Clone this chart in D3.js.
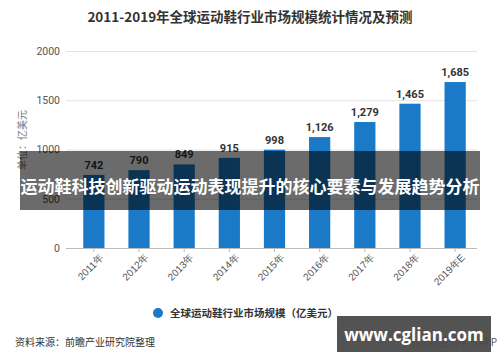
<!DOCTYPE html>
<html><head><meta charset="utf-8">
<script src="https://cdn.jsdelivr.net/npm/d3@7"></script>
<style>body{margin:0;background:#fff;}svg{display:block;font-family:"Noto Sans CJK SC","Noto Sans",sans-serif;}</style>
</head><body>
<svg id="c" width="500" height="362"></svg>
<script>
const categories = ["2011年","2012年","2013年","2014年","2015年","2016年","2017年","2018年","2019年E"];
const values = [742, 790, 849, 915, 998, 1126, 1279, 1465, 1685];
const yTicks = [0, 500, 1000, 1500, 2000];

const svg = d3.select("#c");
const x = d3.scaleBand().domain(categories).range([71.5, 477.5]).paddingInner(0.53).paddingOuter(0.26);
const y = d3.scaleLinear().domain([0, 2000]).range([248, 51]);

svg.append("text").attr("x", 250).attr("y", 22).attr("text-anchor", "middle")
  .attr("font-size", 13.5).attr("font-weight", "bold").attr("fill", "#333")
  .text("2011-2019年全球运动鞋行业市场规模统计情况及预测");

// grid
const yAxis = d3.axisLeft(y).tickValues(yTicks).tickSize(-(477 - 66)).tickPadding(6).tickFormat(d3.format("d"));
const gy = svg.append("g").attr("transform", "translate(66,0)").call(yAxis);
gy.select(".domain").remove();
gy.selectAll(".tick line").attr("stroke", "#e3e3e3");
gy.selectAll(".tick text").attr("font-size", 10.5).attr("fill", "#555").attr("font-family", "Roboto, sans-serif");

// bars
svg.append("g").selectAll("rect").data(values).join("rect")
  .attr("x", (d, i) => x(categories[i])).attr("width", x.bandwidth())
  .attr("y", d => y(d)).attr("height", d => y(0) - y(d)).attr("fill", "#1a7ac8");

// x axis
const gx = svg.append("g").attr("transform", "translate(0,248)").call(d3.axisBottom(x).tickSize(4).tickSizeOuter(0));
gx.select(".domain").attr("stroke", "#bbb").attr("d", "M66,0.5H477");
gx.selectAll(".tick line").attr("stroke", "#bbb");
gx.selectAll(".tick text").attr("font-size", 10).attr("fill", "#555")
  .attr("text-anchor", "end").attr("transform", "translate(4,4) rotate(-45)").attr("dy", "0.3em").attr("y", 6);

// value labels
svg.append("g").selectAll("text").data(values).join("text")
  .attr("x", (d, i) => x(categories[i]) + x.bandwidth() / 2).attr("y", d => y(d) - 6)
  .attr("text-anchor", "middle").attr("font-size", 11).attr("font-weight", "bold").attr("fill", "#333")
  .attr("font-family", "Roboto, sans-serif")
  .text(d => d3.format(",")(d));

// y title
svg.append("text").attr("transform", "translate(26,140) rotate(-90)").attr("text-anchor", "middle")
  .attr("font-size", 10).attr("fill", "#777").text("单位：亿美元");

// legend
svg.append("circle").attr("cx", 158).attr("cy", 313).attr("r", 5).attr("fill", "#1a7ac8");
svg.append("text").attr("x", 170).attr("y", 317).attr("font-size", 10.5).attr("fill", "#333").attr("font-weight", "bold")
  .text("全球运动鞋行业市场规模（亿美元）");

// source
svg.append("text").attr("x", 15).attr("y", 346).attr("font-size", 10).attr("fill", "#333").text("资料来源：前瞻产业研究院整理");
svg.append("text").attr("x", 497).attr("y", 346).attr("text-anchor", "end").attr("font-size", 10).attr("fill", "#555").text("@前瞻经济学人APP");

// overlay banner
svg.append("rect").attr("x", 20).attr("y", 151).attr("width", 460).attr("height", 59).attr("fill", "#000").attr("opacity", 0.58);
svg.append("text").attr("x", 250).attr("y", 193).attr("text-anchor", "middle").attr("font-size", 17)
  .attr("font-weight", "bold").attr("fill", "#fff").text("运动鞋科技创新驱动运动表现提升的核心要素与发展趋势分析");

// site box
svg.append("rect").attr("x", 337).attr("y", 316).attr("width", 154).attr("height", 36).attr("fill", "#4a4a4a").attr("opacity", 0.95);
svg.append("text").attr("x", 414).attr("y", 341).attr("text-anchor", "middle").attr("font-size", 17)
  .attr("font-weight", "bold").attr("fill", "#fff").attr("font-family", "'Open Sans', sans-serif").text("www.cglian.com");
</script>
</body></html>
